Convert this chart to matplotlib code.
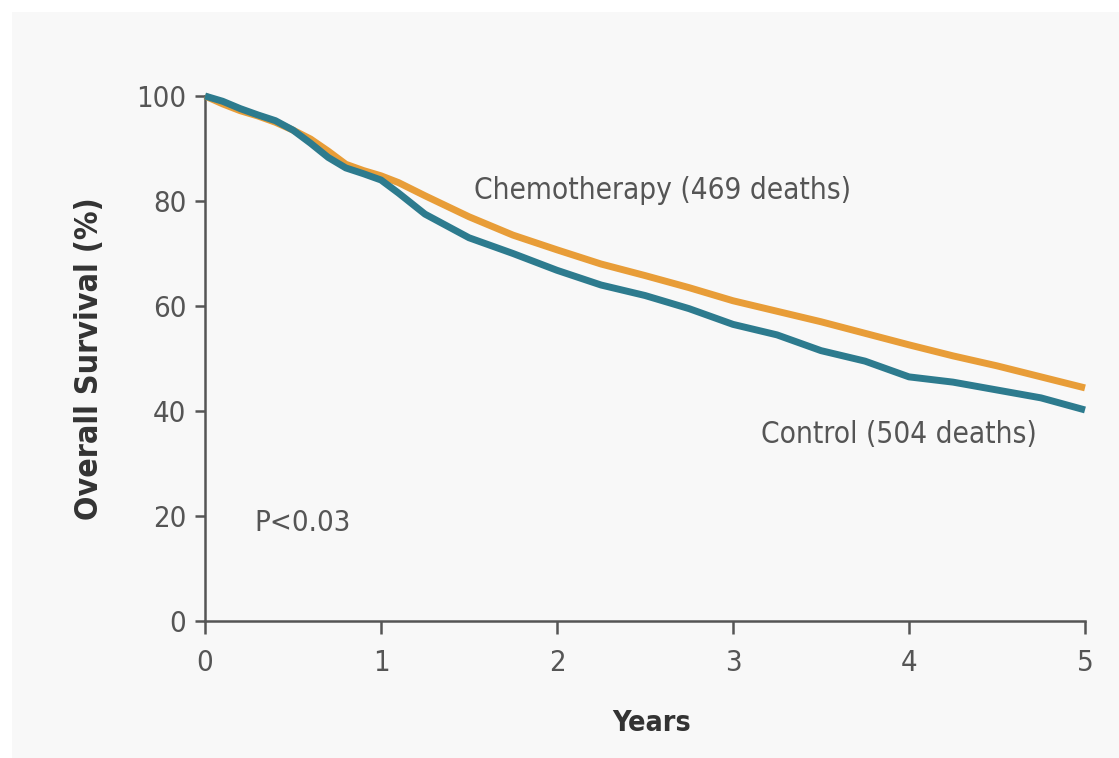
import matplotlib
matplotlib.use("Agg")
import matplotlib.pyplot as plt
from matplotlib.patches import Rectangle

# Kaplan-Meier curves (years, % surviving)
years = [0, 0.1, 0.2, 0.3, 0.4, 0.5, 0.6, 0.7, 0.8, 0.9, 1.0, 1.1, 1.25,
         1.5, 1.75, 2.0, 2.25, 2.5, 2.75, 3.0, 3.25, 3.5, 3.75, 4.0, 4.25,
         4.5, 4.75, 5.0]
chemo = [100, 98.5, 97.2, 96.2, 95.0, 93.5, 91.8, 89.5, 87.0, 85.8, 84.8,
         83.5, 81.0, 77.0, 73.5, 70.7, 68.0, 65.8, 63.5, 61.0, 59.0, 57.0,
         54.8, 52.6, 50.5, 48.6, 46.5, 44.4]
control = [100, 99.0, 97.6, 96.4, 95.3, 93.5, 91.0, 88.3, 86.3, 85.2, 84.0,
           81.5, 77.5, 73.0, 70.0, 66.8, 64.0, 62.0, 59.5, 56.5, 54.5, 51.5,
           49.5, 46.5, 45.5, 44.0, 42.5, 40.2]

x_ticks = [0, 1, 2, 3, 4, 5]
y_ticks = [0, 20, 40, 60, 80, 100]

TXT = "#555555"
plt.rcParams["font.family"] = ["DejaVu Sans"]
plt.rcParams["font.stretch"] = "condensed"

fig = plt.figure(figsize=(11.19, 7.58), dpi=100)
fig.patch.set_facecolor("white")
fig.patches.append(Rectangle((12 / 1119, 0), 1, 1 - 12 / 758,
                             transform=fig.transFigure, facecolor="#f8f8f8",
                             edgecolor="none", zorder=-10))

ax = fig.add_axes([205 / 1119, 1 - 621 / 758, 880 / 1119, 525 / 758])
ax.set_facecolor("none")

ax.plot(years, chemo, color="#e89d38", lw=5.0, clip_on=False,
        solid_capstyle="butt", zorder=3)
ax.plot(years, control, color="#2d7b8e", lw=5.0, clip_on=False,
        solid_capstyle="butt", zorder=4)

ax.set_xlim(0, 5)
ax.set_ylim(0, 100)
ax.set_xticks(x_ticks)
ax.set_yticks(y_ticks)
for s in ["top", "right"]:
    ax.spines[s].set_visible(False)
for s in ["left", "bottom"]:
    ax.spines[s].set_color("#555555")
    ax.spines[s].set_linewidth(1.8)
ax.tick_params(direction="out", width=1.8, color="#555555",
               labelsize=21, labelcolor=TXT)
ax.tick_params(axis="y", length=7.5, pad=6)
ax.tick_params(axis="x", length=9, pad=11)

ax.set_xlabel("Years", fontsize=20.5, fontweight="bold", color="#333333")
ax.xaxis.set_label_coords(0.508, -0.168)
ax.set_ylabel("Overall Survival (%)", fontsize=23, fontweight="bold",
              color="#333333")
ax.yaxis.set_label_coords(-0.114, 0.5)

ax.text(1.53, 82, "Chemotherapy (469 deaths)", fontsize=21.3, color=TXT,
        ha="left", va="center")
ax.text(3.16, 35.5, "Control (504 deaths)", fontsize=21.3, color=TXT,
        ha="left", va="center")
ax.text(0.28, 18.6, "P<0.03", fontsize=21, color=TXT, ha="left",
        va="center")

fig.savefig("out.png", dpi=100)
